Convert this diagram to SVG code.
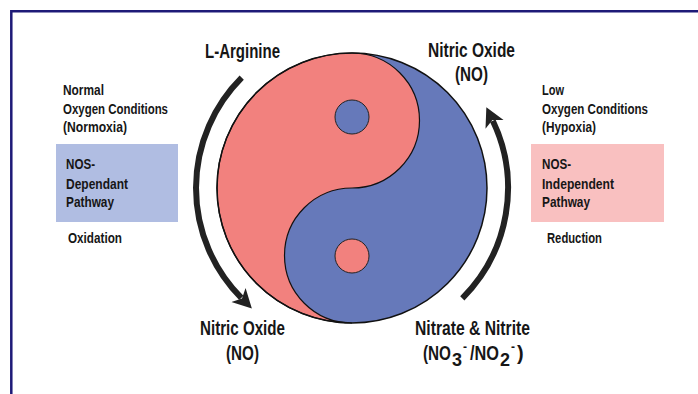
<svg xmlns="http://www.w3.org/2000/svg" width="698" height="394" viewBox="0 0 698 394">
<defs>
<style>
.t{font-family:"Liberation Sans Narrow","Liberation Sans",Arial,sans-serif;font-weight:bold;fill:#161616}
.s{font-size:15px}
.l{font-size:20px}
.arc{fill:none;stroke:#222;stroke-width:6}
.pink{fill:#F2817E}
.blue{fill:#6679BA}
</style>
<marker id="ah" markerUnits="userSpaceOnUse" markerWidth="22" markerHeight="22" refX="4" refY="10" orient="auto">
<path d="M0,0 L19,10 L0,20 L5,10 Z" fill="#222"/>
</marker>
</defs>
<rect width="698" height="394" fill="#fff"/>
<g id="frame" fill="none" stroke="#1E1A78" stroke-width="2.5">
<path d="M11.3,394 V11.3 H698"/>
</g>
<g id="yinyang">
<circle cx="352" cy="188" r="135" class="blue"/>
<path class="pink" d="M352,53 A135,135 0 0 0 352,323 A67.5,67.5 0 0 1 352,188 A67.5,67.5 0 0 0 352,53 Z" stroke="#111" stroke-width="1.2"/>
<circle cx="352" cy="188" r="135" fill="none" stroke="#111" stroke-width="1.5"/>
<circle cx="352" cy="117" r="17" class="blue" stroke="#222" stroke-width="1"/>
<circle cx="352" cy="256" r="17" class="pink" stroke="#222" stroke-width="1"/>
</g>
<g id="connectors">
<path class="arc" d="M241.7,77.7 A156,156 0 0 0 241.3,297.9" marker-end="url(#ah)"/>
<path class="arc" d="M462.3,298.3 A156,156 0 0 0 492.8,120.8" marker-end="url(#ah)"/>
</g>
<g id="l-arginine"><text class="t l" x="205" y="58" textLength="75" lengthAdjust="spacingAndGlyphs">L-Arginine</text></g>
<g id="no-top">
<text class="t l" x="428" y="57" textLength="87" lengthAdjust="spacingAndGlyphs">Nitric Oxide</text>
<text class="t l" x="455" y="81" textLength="33" lengthAdjust="spacingAndGlyphs">(NO)</text>
</g>
<g id="normoxia">
<text class="t s" x="63" y="95" textLength="41" lengthAdjust="spacingAndGlyphs">Normal</text>
<text class="t s" x="63" y="114" textLength="105" lengthAdjust="spacingAndGlyphs">Oxygen Conditions</text>
<text class="t s" x="63" y="132" textLength="64" lengthAdjust="spacingAndGlyphs">(Normoxia)</text>
</g>
<g id="hypoxia">
<text class="t s" x="542" y="95" textLength="22" lengthAdjust="spacingAndGlyphs">Low</text>
<text class="t s" x="542" y="114" textLength="106" lengthAdjust="spacingAndGlyphs">Oxygen Conditions</text>
<text class="t s" x="542" y="132" textLength="54" lengthAdjust="spacingAndGlyphs">(Hypoxia)</text>
</g>
<g id="nos-dependant">
<rect x="56" y="144" width="122" height="78" fill="#B0BDE2"/>
<text class="t s" x="66" y="169" textLength="29" lengthAdjust="spacingAndGlyphs">NOS-</text>
<text class="t s" x="66" y="189" textLength="62" lengthAdjust="spacingAndGlyphs">Dependant</text>
<text class="t s" x="66" y="207" textLength="48" lengthAdjust="spacingAndGlyphs">Pathway</text>
</g>
<g id="nos-independent">
<rect x="531" y="144" width="133" height="78" fill="#F9C0C0"/>
<text class="t s" x="542" y="169" textLength="29" lengthAdjust="spacingAndGlyphs">NOS-</text>
<text class="t s" x="542" y="189" textLength="72" lengthAdjust="spacingAndGlyphs">Independent</text>
<text class="t s" x="542" y="207" textLength="48" lengthAdjust="spacingAndGlyphs">Pathway</text>
</g>
<g id="oxidation"><text class="t s" x="68" y="243" textLength="54" lengthAdjust="spacingAndGlyphs">Oxidation</text></g>
<g id="reduction"><text class="t s" x="547" y="243" textLength="55" lengthAdjust="spacingAndGlyphs">Reduction</text></g>
<g id="no-bottom">
<text class="t l" x="200" y="335" textLength="85" lengthAdjust="spacingAndGlyphs">Nitric Oxide</text>
<text class="t l" x="226" y="360" textLength="33" lengthAdjust="spacingAndGlyphs">(NO)</text>
</g>
<g id="nitrate-nitrite">
<text class="t l" x="415" y="335" textLength="115" lengthAdjust="spacingAndGlyphs">Nitrate &amp; Nitrite</text>
<text class="t l" y="360"><tspan x="423" textLength="28" lengthAdjust="spacingAndGlyphs">(NO</tspan><tspan x="452" y="366" font-size="18">3</tspan><tspan x="463" y="351" font-size="12">-</tspan><tspan x="470" y="360" textLength="29" lengthAdjust="spacingAndGlyphs">/NO</tspan><tspan x="500" y="366" font-size="18">2</tspan><tspan x="511" y="351" font-size="12">-</tspan><tspan x="517" y="360">)</tspan></text>
</g>
</svg>
